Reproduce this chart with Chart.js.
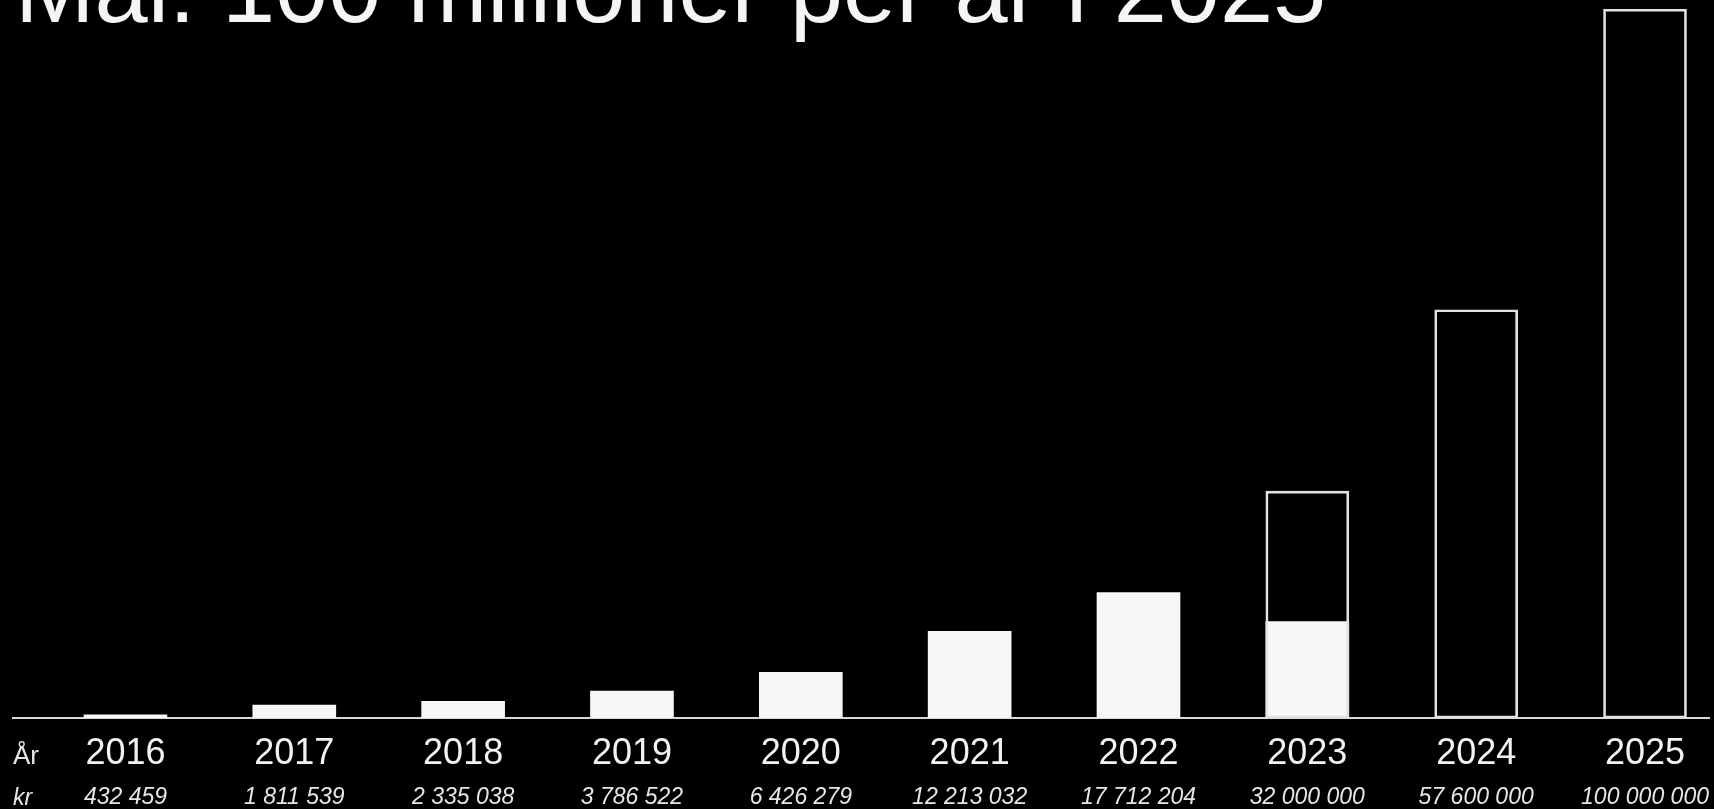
<!DOCTYPE html>
<html>
<head>
<meta charset="utf-8">
<script src="https://cdn.jsdelivr.net/npm/chart.js@4.4.1/dist/chart.umd.min.js"></script>
<style>
  html, body { margin: 0; padding: 0; background: #000; overflow: hidden; }
  #wrap { position: relative; width: 1714px; height: 809px; }
  #chart { display: block; }
  #title {
    position: absolute; left: 15px; top: -58px; margin: 0;
    font: normal 95.5px/95px "Liberation Sans", Arial, sans-serif;
    color: #f5f5f5; white-space: nowrap; z-index: 2;
  }
</style>
</head>
<body>
<div id="wrap">
  <h1 id="title">Mål: 100 millioner per år i 2025</h1>
  <canvas id="chart" width="1714" height="809"></canvas>
</div>
<script>
// Data
const years = [2016, 2017, 2018, 2019, 2020, 2021, 2022, 2023, 2024, 2025];
const yearLabels = ['2016', '2017', '2018', '2019', '2020', '2021', '2022', '2023', '2024', '2025'];
const krLabels = ['432 459', '1 811 539', '2 335 038', '3 786 522', '6 426 279',
  '12 213 032', '17 712 204', '32 000 000', '57 600 000', '100 000 000'];
const actual = [432459, 1811539, 2335038, 3786522, 6426279, 12213032, 17712204, 13600000, null, null];
const target = [null, null, null, null, null, null, null, 32000000, 57600000, 100000000];

// x range a bit wider than the years so the baseline runs edge to edge
const xMin = 2015.334;
const xMax = 2025.379;

// "År" / "kr" row headers left of the axis labels
const rowLabels = {
  id: 'rowLabels',
  afterDraw(chart) {
    const ctx = chart.ctx;
    const left = chart.chartArea.left;
    ctx.save();
    ctx.fillStyle = '#e6e6e6';
    ctx.textAlign = 'left';
    ctx.textBaseline = 'alphabetic';
    ctx.font = '26px "Liberation Sans", Arial, sans-serif';
    ctx.fillText('År', left, chart.scales.x.top + 46);
    ctx.font = 'italic 23px "Liberation Sans", Arial, sans-serif';
    ctx.fillText('kr', left, chart.scales.kr.top + 35);
    ctx.restore();
  }
};

// fixed axis heights, and no extra side padding for the edge labels
function fitAxis(h) {
  return axis => {
    axis.height = h;
    axis.paddingLeft = 0;
    axis.paddingRight = 0;
  };
}

document.addEventListener('DOMContentLoaded', function () {
  const ctx = document.getElementById('chart').getContext('2d');
  new Chart(ctx, {
    type: 'bar',
    data: {
      datasets: [
        {
          label: 'Mål',
          data: years.map((y, i) => ({ x: y, y: target[i] })),
          backgroundColor: 'rgba(0,0,0,0)',
          borderColor: '#e2e2e2',
          borderWidth: 2,
          borderSkipped: false,
          grouped: false,
          barThickness: 83,
          order: 0
        },
        {
          label: 'Faktisk',
          data: years.map((y, i) => ({ x: y, y: actual[i] })),
          backgroundColor: '#f7f7f7',
          borderWidth: 0,
          grouped: false,
          barThickness: 83,
          order: 1
        }
      ]
    },
    options: {
      responsive: false,
      animation: false,
      devicePixelRatio: 1,
      layout: { padding: { left: 13, right: 5, top: 0, bottom: 0 } },
      plugins: {
        legend: { display: false },
        tooltip: { enabled: false }
      },
      scales: {
        x: {
          type: 'linear',
          position: 'bottom',
          offset: false,
          min: xMin,
          max: xMax,
          afterBuildTicks: axis => { axis.ticks = years.map(v => ({ value: v })); },
          afterFit: fitAxis(52),
          grid: { display: false, drawTicks: false },
          border: { display: true, color: '#d8d8d8', width: 2 },
          ticks: {
            color: '#f2f2f2',
            padding: 14,
            autoSkip: false,
            maxRotation: 0,
            font: { family: '"Liberation Sans", Arial, sans-serif', size: 36 },
            callback: (v, i) => yearLabels[i]
          }
        },
        kr: {
          type: 'linear',
          axis: 'x',
          position: 'bottom',
          offset: false,
          min: xMin,
          max: xMax,
          afterBuildTicks: axis => { axis.ticks = years.map(v => ({ value: v })); },
          afterFit: fitAxis(39),
          grid: { display: false, drawTicks: false },
          border: { display: false },
          ticks: {
            color: '#e6e6e6',
            padding: 14,
            autoSkip: false,
            maxRotation: 0,
            font: { family: '"Liberation Sans", Arial, sans-serif', size: 23, style: 'italic' },
            callback: (v, i) => krLabels[i]
          }
        },
        y: {
          display: false,
          min: 0,
          max: 101300000
        }
      }
    },
    plugins: [rowLabels]
  });
});
</script>
</body>
</html>
